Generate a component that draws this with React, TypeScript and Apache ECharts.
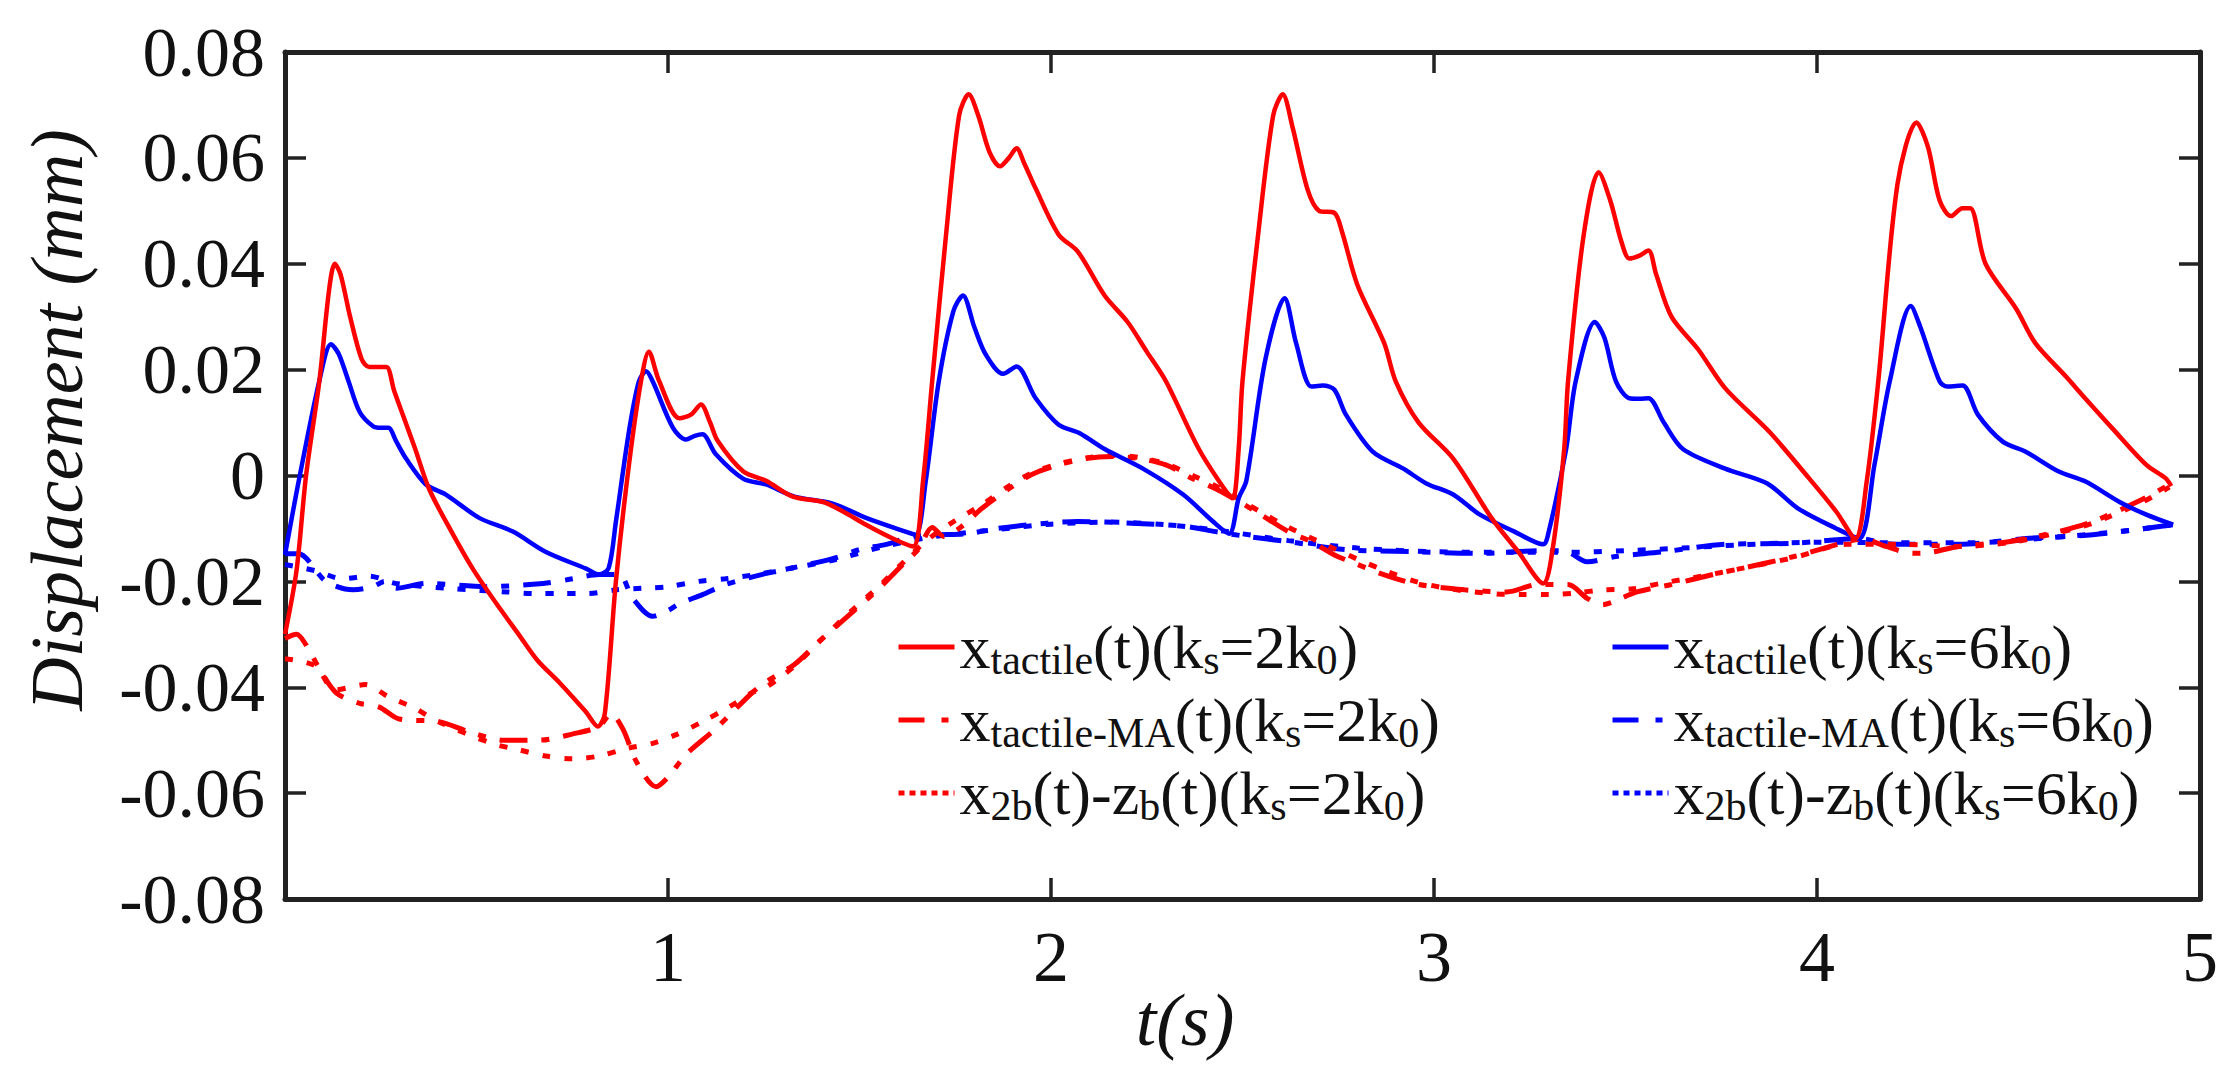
import React, { useEffect, useRef } from "react";
import * as echarts from "echarts";

// t (s), displacement (mm)
const redTactile2 = [
  [0, -0.03], [0.03, -0.018], [0.055, 0.0], [0.09, 0.018], [0.115, 0.035], [0.13, 0.04],
  [0.145, 0.038], [0.17, 0.03], [0.2, 0.022], [0.22, 0.0205], [0.245, 0.0205], [0.265, 0.0205],
  [0.285, 0.016], [0.31, 0.011], [0.34, 0.005], [0.376, -0.0025], [0.43, -0.01], [0.49, -0.0176],
  [0.55, -0.024], [0.61, -0.03], [0.66, -0.035], [0.715, -0.039], [0.785, -0.0446], [0.817, -0.0474],
  [0.835, -0.045], [0.864, -0.02], [0.898, 0.002], [0.93, 0.018], [0.95, 0.0234], [0.976, 0.018],
  [1.03, 0.0108], [1.06, 0.0115], [1.086, 0.0134], [1.11, 0.01], [1.13, 0.0065], [1.196, 0.0008],
  [1.256, -0.001], [1.326, -0.004], [1.405, -0.005], [1.457, -0.0068], [1.517, -0.0093], [1.587, -0.0119],
  [1.64, -0.0134], [1.666, -0.001], [1.69, 0.018], [1.726, 0.0455], [1.76, 0.068], [1.785, 0.072],
  [1.81, 0.068], [1.84, 0.061], [1.867, 0.0584], [1.89, 0.06], [1.91, 0.0618], [1.93, 0.059],
  [1.96, 0.0542], [2.02, 0.0455], [2.07, 0.0423], [2.14, 0.034], [2.2, 0.029], [2.25, 0.0234],
  [2.3, 0.0178], [2.386, 0.005], [2.457, -0.003], [2.475, -0.0043], [2.49, 0.005], [2.5, 0.0178],
  [2.54, 0.045], [2.58, 0.068], [2.605, 0.072], [2.63, 0.066], [2.67, 0.054], [2.7, 0.05],
  [2.74, 0.0496], [2.76, 0.046], [2.8, 0.036], [2.87, 0.025], [2.9, 0.0178], [2.96, 0.01],
  [3.05, 0.0032], [3.15, -0.008], [3.22, -0.0144], [3.285, -0.0204], [3.31, -0.0138], [3.34, 0.005],
  [3.35, 0.0178], [3.39, 0.045], [3.43, 0.0573], [3.46, 0.052], [3.49, 0.044], [3.51, 0.041],
  [3.535, 0.0415], [3.56, 0.0425], [3.58, 0.038], [3.62, 0.03], [3.69, 0.0238], [3.76, 0.0165],
  [3.875, 0.0083], [3.98, -0.0006], [4.05, -0.0068], [4.1, -0.0119], [4.13, -0.001], [4.16, 0.0178],
  [4.21, 0.055], [4.26, 0.0667], [4.29, 0.062], [4.32, 0.052], [4.35, 0.049], [4.38, 0.0505],
  [4.4, 0.0505], [4.44, 0.04], [4.52, 0.0315], [4.57, 0.025], [4.65, 0.0187], [4.7, 0.0146],
  [4.77, 0.009], [4.86, 0.002], [4.91, -0.0005], [4.925, -0.002],
];

const blueTactile6 = [
  [0, -0.015], [0.036, -0.001], [0.09, 0.018], [0.12, 0.0248], [0.14, 0.023], [0.165, 0.018],
  [0.195, 0.012], [0.23, 0.0093], [0.25, 0.009], [0.27, 0.009], [0.29, 0.0065], [0.316, 0.0032],
  [0.368, -0.0017], [0.42, -0.0036], [0.507, -0.008], [0.595, -0.0106], [0.68, -0.0144], [0.786, -0.0176],
  [0.82, -0.0187], [0.845, -0.0175], [0.864, -0.0087], [0.898, 0.0083], [0.924, 0.0178], [0.943, 0.0197],
  [0.96, 0.0178], [1.013, 0.009], [1.047, 0.0068], [1.07, 0.0075], [1.09, 0.0078], [1.125, 0.004],
  [1.196, -0.0006], [1.256, -0.0017], [1.33, -0.004], [1.43, -0.0053], [1.517, -0.008], [1.62, -0.0106],
  [1.647, -0.0112], [1.673, -0.001], [1.707, 0.0178], [1.745, 0.031], [1.77, 0.034], [1.8, 0.028],
  [1.83, 0.0228], [1.875, 0.0192], [1.91, 0.0206], [1.96, 0.0146], [2.02, 0.0096], [2.075, 0.008],
  [2.14, 0.005], [2.24, 0.0013], [2.345, -0.0036], [2.423, -0.0087], [2.465, -0.011], [2.49, -0.0043],
  [2.51, -0.001], [2.56, 0.022], [2.61, 0.0335], [2.64, 0.025], [2.68, 0.0168], [2.71, 0.017],
  [2.74, 0.0162], [2.77, 0.0115], [2.84, 0.0045], [2.92, 0.0013], [2.98, -0.0015], [3.05, -0.0036],
  [3.12, -0.0074], [3.21, -0.0106], [3.285, -0.013], [3.3, -0.0105], [3.345, 0.005], [3.37, 0.0178],
  [3.42, 0.029], [3.445, 0.026], [3.475, 0.0178], [3.51, 0.0146], [3.535, 0.0145], [3.56, 0.0146],
  [3.6, 0.01], [3.65, 0.005], [3.76, 0.0013], [3.87, -0.0015], [3.95, -0.0062], [4.05, -0.01],
  [4.11, -0.0119], [4.15, 0.002], [4.19, 0.0178], [4.245, 0.032], [4.27, 0.028], [4.32, 0.0178],
  [4.34, 0.0168], [4.38, 0.017], [4.42, 0.0115], [4.485, 0.0064], [4.545, 0.0045], [4.63, 0.0008],
  [4.7, -0.0011], [4.79, -0.005], [4.86, -0.0074], [4.93, -0.0093],
];

const redMA2 = [
  [0, -0.0308], [0.03, -0.03], [0.055, -0.032], [0.09, -0.0365], [0.133, -0.041], [0.193, -0.043],
  [0.245, -0.0437], [0.298, -0.046], [0.402, -0.0465], [0.48, -0.0484], [0.57, -0.05], [0.663, -0.05],
  [0.752, -0.0488], [0.82, -0.0474], [0.851, -0.045], [0.883, -0.048], [0.917, -0.054], [0.969, -0.0588],
  [1.0, -0.057], [1.047, -0.0527], [1.125, -0.0478], [1.22, -0.041], [1.256, -0.039], [1.33, -0.0357],
  [1.394, -0.0314], [1.483, -0.0257], [1.55, -0.0214], [1.62, -0.0163], [1.655, -0.0138], [1.69, -0.0098],
  [1.72, -0.0115], [1.76, -0.01], [1.82, -0.0062], [1.89, -0.0025], [1.95, 0.0002], [2.02, 0.002],
  [2.09, 0.0032], [2.16, 0.0036], [2.23, 0.0032], [2.3, 0.002], [2.37, -0.0006], [2.43, -0.0025],
  [2.475, -0.0043], [2.535, -0.0068], [2.62, -0.0106], [2.68, -0.0125], [2.74, -0.015], [2.8, -0.0168],
  [2.88, -0.019], [2.96, -0.0206], [3.08, -0.0216], [3.19, -0.022], [3.27, -0.0206], [3.35, -0.0206],
  [3.4, -0.0232], [3.44, -0.0244], [3.47, -0.0238], [3.53, -0.022], [3.62, -0.0206], [3.74, -0.0185],
  [3.8, -0.0176], [3.94, -0.0153], [4.08, -0.0125], [4.12, -0.012], [4.18, -0.0134], [4.25, -0.0147],
  [4.29, -0.0146], [4.37, -0.0134], [4.5, -0.0125], [4.63, -0.0106], [4.72, -0.0087], [4.85, -0.0045],
  [4.92, -0.0017],
];

const redRel2 = [
  [0, -0.0346], [0.08, -0.036], [0.13, -0.0405], [0.21, -0.0395], [0.27, -0.0418], [0.34, -0.044],
  [0.4, -0.0465], [0.54, -0.0506], [0.61, -0.0518], [0.68, -0.053], [0.75, -0.0535], [0.82, -0.053],
  [0.89, -0.0516], [0.96, -0.0506], [1.02, -0.049], [1.09, -0.0465], [1.16, -0.0437], [1.22, -0.041],
  [1.256, -0.04], [1.33, -0.036], [1.4, -0.031], [1.48, -0.0255], [1.55, -0.021], [1.62, -0.016],
  [1.68, -0.012], [1.75, -0.0085], [1.82, -0.0055], [1.89, -0.002], [1.95, 0.0005], [2.02, 0.0022],
  [2.09, 0.0033], [2.16, 0.0038], [2.23, 0.0034], [2.3, 0.0022], [2.37, 0.0], [2.43, -0.002],
  [2.48, -0.004], [2.55, -0.007], [2.62, -0.0098], [2.7, -0.0125], [2.8, -0.0158], [2.88, -0.0182],
  [2.96, -0.0202], [3.05, -0.0215], [3.15, -0.0223], [3.23, -0.0225], [3.3, -0.0225], [3.37, -0.0222],
  [3.44, -0.0216], [3.52, -0.0214], [3.59, -0.0204], [3.7, -0.019], [3.8, -0.0176], [3.94, -0.0155],
  [4.08, -0.013], [4.22, -0.013], [4.37, -0.0134], [4.5, -0.0127], [4.63, -0.0108], [4.72, -0.009],
  [4.85, -0.005], [4.92, -0.0022],
];

const blueMA6 = [
  [0, -0.0148], [0.035, -0.0148], [0.107, -0.02], [0.178, -0.0216], [0.23, -0.021], [0.26, -0.02],
  [0.29, -0.0213], [0.368, -0.0204], [0.525, -0.021], [0.674, -0.0204], [0.752, -0.0195], [0.82, -0.0187],
  [0.872, -0.0187], [0.908, -0.0232], [0.96, -0.0266], [1.0, -0.0255], [1.03, -0.0242], [1.09, -0.0225],
  [1.15, -0.0206], [1.256, -0.0185], [1.29, -0.018], [1.43, -0.0157], [1.5, -0.014], [1.57, -0.013],
  [1.64, -0.0115], [1.7, -0.0112], [1.78, -0.011], [1.86, -0.01], [1.99, -0.009], [2.07, -0.0087],
  [2.21, -0.009], [2.35, -0.0096], [2.43, -0.0106], [2.51, -0.0115], [2.62, -0.0125], [2.77, -0.014],
  [2.945, -0.0144], [3.12, -0.0147], [3.285, -0.0142], [3.34, -0.0142], [3.4, -0.0163], [3.475, -0.0153],
  [3.6, -0.0144], [3.76, -0.013], [3.94, -0.0128], [4.11, -0.0119], [4.2, -0.013], [4.37, -0.013],
  [4.545, -0.0119], [4.72, -0.0112], [4.93, -0.0093],
];

const blueRel6 = [
  [0, -0.0168], [0.08, -0.018], [0.15, -0.0195], [0.22, -0.019], [0.29, -0.0204], [0.44, -0.0214],
  [0.58, -0.022], [0.65, -0.0223], [0.72, -0.0223], [0.79, -0.0223], [0.865, -0.0216], [0.935, -0.0213],
  [1.0, -0.021], [1.08, -0.02], [1.15, -0.0195], [1.23, -0.0187], [1.3, -0.0178], [1.43, -0.016],
  [1.57, -0.0133], [1.7, -0.0115], [1.86, -0.0102], [2.0, -0.0092], [2.15, -0.0088], [2.3, -0.0093],
  [2.45, -0.0105], [2.62, -0.0123], [2.8, -0.0137], [3.0, -0.0144], [3.2, -0.0145], [3.35, -0.0145],
  [3.5, -0.0142], [3.65, -0.0137], [3.8, -0.0131], [4.0, -0.0126], [4.2, -0.0127], [4.4, -0.0127],
  [4.6, -0.0118], [4.8, -0.0105], [4.93, -0.0093],
];

const legendLabels: Record<string, string> = {
  xt2: "{m|x}{s|tactile}{m|(t)(k}{s|s}{m|=2k}{s|0}{m|)}",
  xma2: "{m|x}{s|tactile-MA}{m|(t)(k}{s|s}{m|=2k}{s|0}{m|)}",
  xrel2: "{m|x}{s|2b}{m|(t)-z}{s|b}{m|(t)(k}{s|s}{m|=2k}{s|0}{m|)}",
  xt6: "{m|x}{s|tactile}{m|(t)(k}{s|s}{m|=6k}{s|0}{m|)}",
  xma6: "{m|x}{s|tactile-MA}{m|(t)(k}{s|s}{m|=6k}{s|0}{m|)}",
  xrel6: "{m|x}{s|2b}{m|(t)-z}{s|b}{m|(t)(k}{s|s}{m|=6k}{s|0}{m|)}",
};

const FONT = "Liberation Serif";
const RED = "#ff0000";
const BLUE = "#0000ff";
const AXIS = "#222222";
const DASH_DOT = [28, 14, 8, 14];
const DOT = [8, 14];
const LEGEND_DASH_DOT = [26, 17, 7, 20];
const LEGEND_DOT = [6, 5];

const App = () => {
  const chartRef = useRef<HTMLDivElement>(null);

  useEffect(() => {
    if (!chartRef.current) return;
    const chart = echarts.init(chartRef.current, null, { renderer: "svg" });

    const axisCommon = {
      type: "value",
      splitLine: { show: false },
      axisLine: { show: true, onZero: false, lineStyle: { color: AXIS, width: 5 } },
      axisTick: { show: true, inside: true, length: 21, lineStyle: { color: AXIS, width: 3.5 } },
    };

    const rich = {
      m: { fontSize: 62, fontFamily: FONT, color: "#111", lineHeight: 80 },
      s: { fontSize: 42, fontFamily: FONT, color: "#111", lineHeight: 48, padding: [26, 0, 0, 0] },
    };

    const legendCommon = {
      orient: "vertical",
      top: 613,
      padding: 0,
      itemGap: 5,
      itemWidth: 56,
      itemHeight: 20,
      selectedMode: false,
      lineStyle: { width: 5 },
      itemStyle: { opacity: 0 },
      formatter: (name: string) => legendLabels[name],
      textStyle: { rich },
    };

    const legendItems = (solid: string, ma: string, rel: string) => [
      { name: solid },
      { name: ma, lineStyle: { type: LEGEND_DASH_DOT } },
      { name: rel, lineStyle: { type: LEGEND_DOT } },
    ];

    const line = (name: string, data: number[][], color: string, type: any, width: number) => ({
      name,
      type: "line",
      data,
      smooth: 0.3,
      showSymbol: false,
      symbol: "none",
      lineStyle: { color, width, type, cap: "butt" },
      itemStyle: { color },
    });

    const option = {
      animation: false,
      backgroundColor: "#ffffff",
      grid: { left: 285, right: 36, top: 52, bottom: 166, containLabel: false },
      xAxis: [
        {
          ...axisCommon,
          min: 0,
          max: 5,
          interval: 1,
          position: "bottom",
          axisLabel: {
            fontSize: 72,
            fontFamily: FONT,
            color: "#111",
            margin: 22,
            formatter: (v: number) => (v === 0 ? "" : String(v)),
          },
        },
        {
          ...axisCommon,
          min: 0,
          max: 5,
          interval: 1,
          position: "top",
          axisLabel: { show: false },
        },
      ],
      yAxis: [
        {
          ...axisCommon,
          min: -0.08,
          max: 0.08,
          interval: 0.02,
          position: "left",
          axisLabel: {
            fontSize: 70,
            fontFamily: FONT,
            color: "#111",
            margin: 20,
            formatter: (v: number) => (Math.abs(v) < 1e-9 ? "0" : v.toFixed(2)),
          },
        },
        {
          ...axisCommon,
          min: -0.08,
          max: 0.08,
          interval: 0.02,
          position: "right",
          axisLabel: { show: false },
        },
      ],
      legend: [
        { ...legendCommon, left: 896, data: legendItems("xt2", "xma2", "xrel2") },
        { ...legendCommon, left: 1610, data: legendItems("xt6", "xma6", "xrel6") },
      ],
      graphic: [
        {
          type: "text",
          x: 57,
          y: 420,
          rotation: Math.PI / 2,
          style: {
            text: "Displacement (mm)",
            fontFamily: FONT,
            fontStyle: "italic",
            fontSize: 74,
            fill: "#111",
            align: "center",
            verticalAlign: "middle",
          },
        },
        {
          type: "text",
          x: 1185,
          y: 1020,
          style: {
            text: "t(s)",
            fontFamily: FONT,
            fontStyle: "italic",
            fontSize: 74,
            fill: "#111",
            align: "center",
            verticalAlign: "middle",
          },
        },
      ],
      series: [
        line("xrel6", blueRel6, BLUE, DOT, 5),
        line("xma6", blueMA6, BLUE, DASH_DOT, 5),
        line("xrel2", redRel2, RED, DOT, 5),
        line("xma2", redMA2, RED, DASH_DOT, 5),
        line("xt6", blueTactile6, BLUE, "solid", 4.5),
        line("xt2", redTactile2, RED, "solid", 4.5),
      ],
    };

    chart.setOption(option as any);

    const handleResize = () => chart.resize();
    window.addEventListener("resize", handleResize);

    return () => {
      window.removeEventListener("resize", handleResize);
      chart.dispose();
    };
  }, []);

  return (
    <div
      ref={chartRef}
      style={{ position: "fixed", left: 0, top: 0, width: "100vw", height: "100vh", background: "#fff" }}
    />
  );
};

export default App;
